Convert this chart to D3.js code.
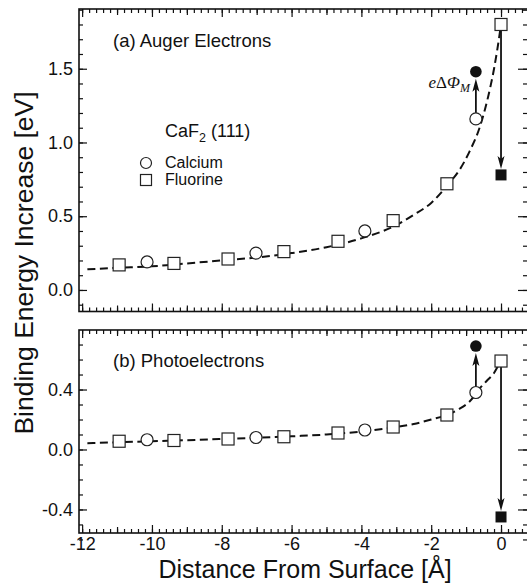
<!DOCTYPE html>
<html>
<head>
<meta charset="utf-8">
<script src="https://cdn.jsdelivr.net/npm/d3@7"></script>
<style>
  body { margin: 0; background: #fff; }
  svg text, svg tspan { font-family: "Liberation Sans", Arial, Helvetica, sans-serif; fill: #111; }
</style>
</head>
<body>
<svg id="chart" width="527" height="584"></svg>
<script>
// distance of the measured points from the surface [Å]
const distF = [-10.94, -9.37, -7.82, -6.22, -4.67, -3.09, -1.55, 0];
const distCa = [-10.14, -7.02, -3.90, -0.72];

// (a) Auger electrons, binding energy increase [eV]
const augerF = [0.17, 0.18, 0.21, 0.26, 0.33, 0.47, 0.72, 1.80];
const augerCa = [0.19, 0.25, 0.40, 1.16];
const augerMetalCa = 1.48;   // filled circle
const augerMetalF = 0.78;    // filled square

// (b) photoelectrons
const photoF = [0.055, 0.06, 0.07, 0.085, 0.11, 0.15, 0.23, 0.59];
const photoCa = [0.065, 0.08, 0.13, 0.38];
const photoMetalCa = 0.69;
const photoMetalF = -0.45;

// dashed guide curves
const fitX = [-11.85, -11, -10, -9, -8, -7, -6, -5, -4, -3, -2.5, -2, -1.5, -1.2, -0.9, -0.6, -0.4, -0.2, -0.1, 0];
const augerFit = [0.14, 0.15, 0.16, 0.18, 0.20, 0.22, 0.25, 0.29, 0.35, 0.44, 0.51, 0.59, 0.72, 0.81, 0.94, 1.11, 1.28, 1.50, 1.64, 1.80];
const photoFit = [0.042, 0.048, 0.055, 0.062, 0.07, 0.078, 0.088, 0.10, 0.12, 0.15, 0.17, 0.20, 0.235, 0.27, 0.32, 0.41, 0.46, 0.51, 0.55, 0.59];

// axis ticks
const xTicks = [-12, -10, -8, -6, -4, -2, 0];
const augerTicks = [0, 0.5, 1.0, 1.5];
const photoTicks = [-0.4, 0, 0.4];

const svg = d3.select("#chart");
const left = 79, right = 528;

const x = d3.scaleLinear().domain([-12.09, 0.773]).range([left, right]);

const xMid = d3.range(-11, 1, 2);
const xMinor = d3.range(-12, 0.8, 0.2).map(d => +d.toFixed(1));

function styleAxis(g) {
  g.select(".domain").remove();
  g.selectAll("line").attr("stroke", "#111").attr("stroke-width", 1.2);
  g.selectAll("text").attr("font-size", 18).attr("font-family", null);
}

function drawPanel(p) {
  const y = d3.scaleLinear().domain(p.yDomain).range([p.bottom, p.top]);
  const g = svg.append("g");

  // minor ticks on all four sides
  const yMinor = d3.range(p.yDomain[0], p.yDomain[1], 0.1).map(d => +d.toFixed(1));
  g.append("g").attr("transform", `translate(${left},0)`)
    .call(d3.axisLeft(y).tickValues(yMinor).tickSize(-4).tickFormat("")).call(styleAxis);
  g.append("g").attr("transform", `translate(${right},0)`)
    .call(d3.axisRight(y).tickValues(yMinor).tickSize(-5).tickFormat("")).call(styleAxis);
  g.append("g").attr("transform", `translate(0,${p.top})`)
    .call(d3.axisTop(x).tickValues(xMinor).tickSize(-4).tickFormat("")).call(styleAxis);
  g.append("g").attr("transform", `translate(0,${p.bottom})`)
    .call(d3.axisBottom(x).tickValues(xMinor).tickSize(-4).tickFormat("")).call(styleAxis);
  g.append("g").attr("transform", `translate(0,${p.top})`)
    .call(d3.axisTop(x).tickValues(xMid).tickSize(-6).tickFormat("")).call(styleAxis);
  g.append("g").attr("transform", `translate(0,${p.bottom})`)
    .call(d3.axisBottom(x).tickValues(xMid).tickSize(-6).tickFormat("")).call(styleAxis);

  // major ticks
  g.append("g").attr("transform", `translate(${left},0)`)
    .call(d3.axisLeft(y).tickValues(p.ticks).tickSize(-8).tickPadding(6).tickFormat(d => d.toFixed(1)))
    .call(styleAxis);
  g.append("g").attr("transform", `translate(${right},0)`)
    .call(d3.axisRight(y).tickValues(p.ticks).tickSize(-10).tickFormat("")).call(styleAxis);
  g.append("g").attr("transform", `translate(0,${p.top})`)
    .call(d3.axisTop(x).tickValues(xTicks).tickSize(-8).tickFormat("")).call(styleAxis);
  g.append("g").attr("transform", `translate(0,${p.bottom})`)
    .call(d3.axisBottom(x).tickValues(xTicks).tickSize(-8).tickPadding(4)
      .tickFormat(p.xLabels ? (d => String(d)) : ""))
    .call(styleAxis);

  // frame
  g.append("rect")
    .attr("x", left).attr("y", p.top)
    .attr("width", right - left).attr("height", p.bottom - p.top)
    .attr("fill", "none").attr("stroke", "#111").attr("stroke-width", 1.6);

  // dashed curve
  const line = d3.line().x((d, i) => x(fitX[i])).y(d => y(d)).curve(d3.curveMonotoneX);
  g.append("path")
    .attr("d", line(p.fit))
    .attr("fill", "none").attr("stroke", "#111")
    .attr("stroke-width", 2).attr("stroke-dasharray", "8,4.5");

  // arrows: open marker -> filled marker
  const arrows = [
    { x: distCa[3], from: p.ca[3], to: p.metalCa, shape: "circle" },
    { x: distF[7], from: p.f[7], to: p.metalF, shape: "square" }
  ];
  arrows.forEach(a => {
    const dir = a.to > a.from ? -1 : 1;  // screen direction
    const y0 = y(a.from) + dir * 6;
    const y1 = y(a.to) - dir * (a.shape === "circle" ? 7 : 6);
    const ax = x(a.x);
    g.append("line")
      .attr("x1", ax).attr("x2", ax).attr("y1", y0).attr("y2", y1 - dir * 8)
      .attr("stroke", "#111").attr("stroke-width", 1.8);
    g.append("path")
      .attr("d", `M${ax},${y1} L${ax - 3.5},${y1 - dir * 13} L${ax},${y1 - dir * 10} L${ax + 3.5},${y1 - dir * 13} Z`)
      .attr("fill", "#111");
  });

  // open markers
  g.selectAll(".sq").data(p.f).enter().append("rect")
    .attr("x", (d, i) => x(distF[i]) - 6).attr("y", d => y(d) - 6)
    .attr("width", 12).attr("height", 12)
    .attr("fill", "#fff").attr("stroke", "#222").attr("stroke-width", 1.2);
  g.selectAll(".ci").data(p.ca).enter().append("circle")
    .attr("cx", (d, i) => x(distCa[i])).attr("cy", d => y(d)).attr("r", 6)
    .attr("fill", "#fff").attr("stroke", "#222").attr("stroke-width", 1.2);

  // filled markers
  g.append("circle")
    .attr("cx", x(distCa[3])).attr("cy", y(p.metalCa)).attr("r", 5.8).attr("fill", "#111");
  g.append("rect")
    .attr("x", x(distF[7]) - 5.5).attr("y", y(p.metalF) - 5.5)
    .attr("width", 11).attr("height", 11).attr("fill", "#111");

  // panel title
  g.append("text").attr("x", 113).attr("y", p.top + p.titleDy)
    .attr("font-size", 18.5).text(p.title);

  return { g, y };
}

const pa = drawPanel({
  top: 9, bottom: 311.5, yDomain: [-0.146, 1.905], ticks: augerTicks,
  f: augerF, ca: augerCa, metalCa: augerMetalCa, metalF: augerMetalF, fit: augerFit,
  title: "(a) Auger Electrons", titleDy: 38, xLabels: false
});
const pb = drawPanel({
  top: 330, bottom: 533, yDomain: [-0.557, 0.797], ticks: photoTicks,
  f: photoF, ca: photoCa, metalCa: photoMetalCa, metalF: photoMetalF, fit: photoFit,
  title: "(b) Photoelectrons", titleDy: 37, xLabels: true
});

// legend in panel (a)
const lg = pa.g.append("g");
const cf = lg.append("text").attr("x", 165).attr("y", 137).attr("font-size", 18);
cf.append("tspan").text("CaF");
cf.append("tspan").attr("font-size", 12.5).attr("dy", 5).text("2");
cf.append("tspan").attr("dy", -5).text(" (111)");
lg.append("circle").attr("cx", 146).attr("cy", 163).attr("r", 5.5)
  .attr("fill", "#fff").attr("stroke", "#222").attr("stroke-width", 1.2);
lg.append("text").attr("x", 165).attr("y", 168).attr("font-size", 16).text("Calcium");
lg.append("rect").attr("x", 140.5).attr("y", 174.5).attr("width", 11).attr("height", 11)
  .attr("fill", "#fff").attr("stroke", "#222").attr("stroke-width", 1.2);
lg.append("text").attr("x", 165).attr("y", 185).attr("font-size", 16).text("Fluorine");

// e ΔΦ_M label
const lab = pa.g.append("text")
  .attr("x", x(distCa[3]) - 6).attr("y", 88)
  .attr("text-anchor", "end")
  .attr("font-size", 17);
const serif = "'Liberation Serif', 'Times New Roman', serif";
lab.append("tspan").style("font-family", serif).style("font-style", "italic").style("fill", "#111").text("e");
lab.append("tspan").style("font-family", serif).style("fill", "#111").text("Δ");
lab.append("tspan").style("font-family", serif).style("font-style", "italic").style("fill", "#111").text("Φ");
lab.append("tspan").style("font-family", serif).style("font-style", "italic").style("fill", "#111")
  .attr("font-size", 12).attr("dy", 4).text("M");

// axis titles
svg.append("text")
  .attr("transform", "translate(33,263) rotate(-90)")
  .attr("text-anchor", "middle").attr("font-size", 26.5)
  .text("Binding Energy Increase [eV]");
svg.append("text")
  .attr("x", 305).attr("y", 578)
  .attr("text-anchor", "middle").attr("font-size", 25)
  .text("Distance From Surface [Å]");
</script>
</body>
</html>
